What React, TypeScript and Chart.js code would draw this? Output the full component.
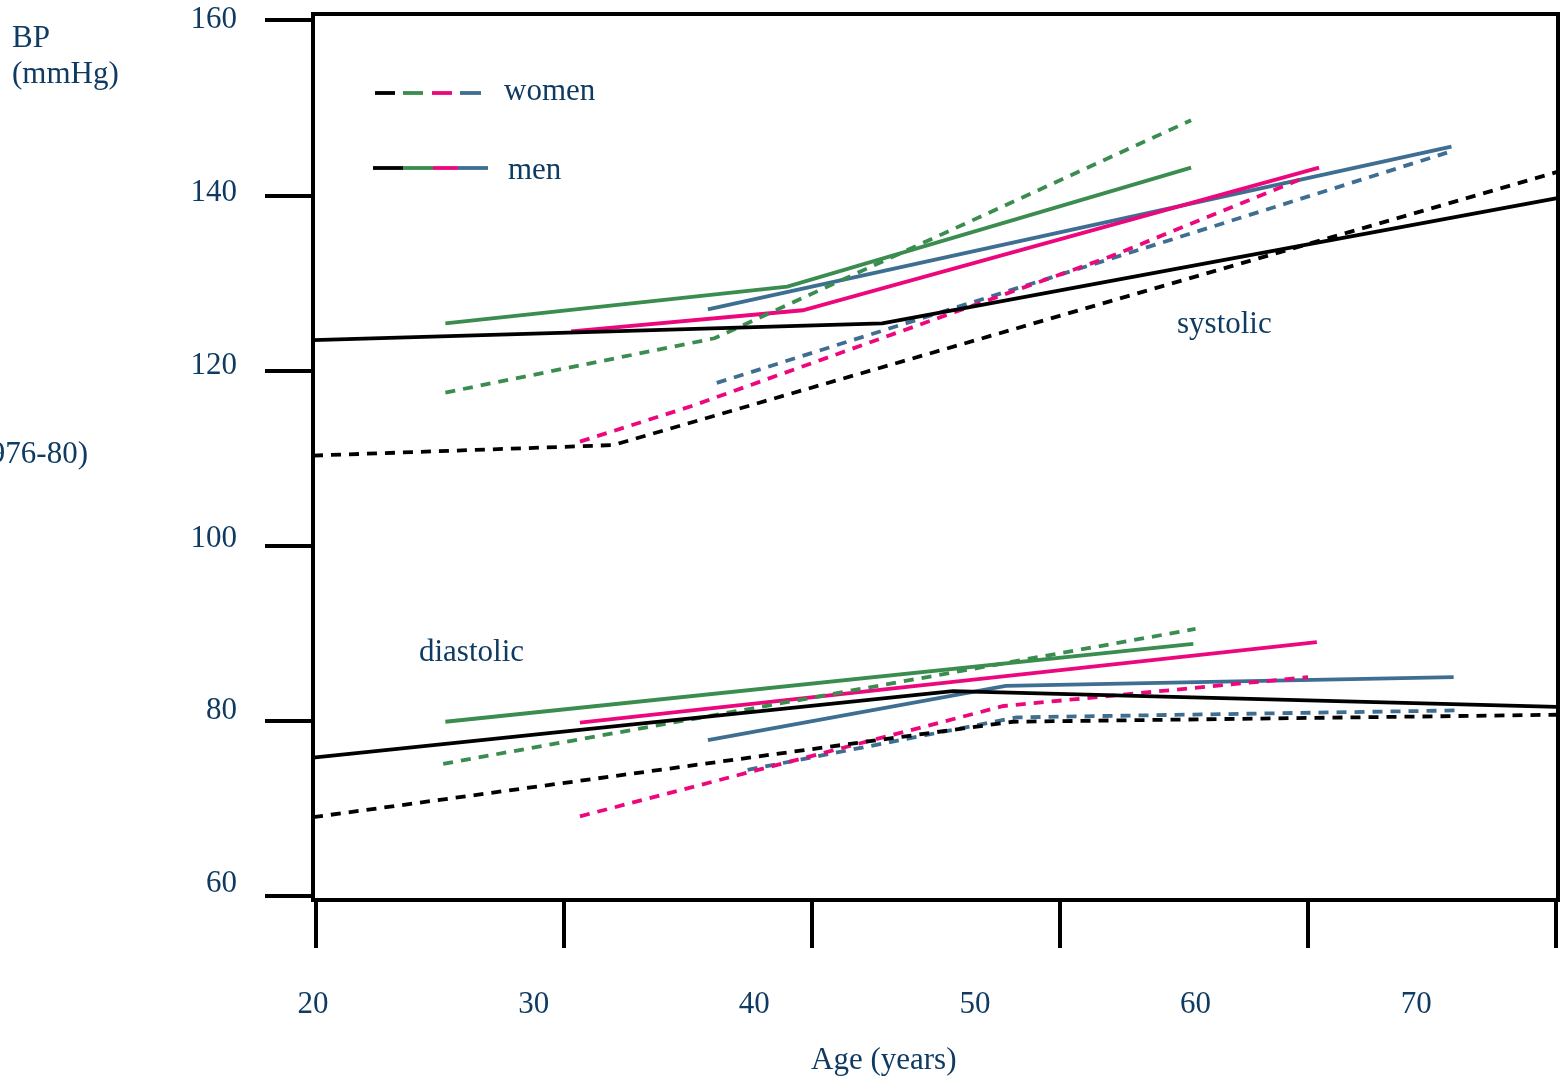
import React, { useEffect, useRef } from 'react';
import { Chart, registerables } from 'chart.js';

Chart.register(...registerables);

const NAVY = '#0f3b63';
const BLACK = '#000000';
const GREEN = '#3b8c4f';
const PINK = '#ec077d';
const BLUE = '#3e6e92';
const FONT = 'Liberation Serif';

// Axis tick values
const xLabelTicks = [20, 30, 40, 50, 60, 70];
const xMarkTicks = [20, 30, 40, 50, 60, 70];
const yLabelTicks = [60, 80, 100, 120, 140, 160];
const yMarkTicks = [60, 80, 100, 120, 140, 160];

// Systolic BP by age: [age, mmHg]
const sysMenBlack = [[20, 123.5], [45.8, 125.4], [76.4, 139.7]];
const sysWomenBlack = [[20, 110.3], [33.6, 111.5], [76.4, 142.7]];
const sysMenGreen = [[26.0, 125.4], [41.5, 129.6], [59.8, 143.2]];
const sysWomenGreen = [[26.0, 117.5], [38.2, 123.7], [59.8, 148.6]];
const sysMenPink = [[31.7, 124.5], [42.2, 126.9], [65.6, 143.2]];
const sysWomenPink = [[32.1, 111.9], [37.1, 115.9], [56.1, 133.0], [64.7, 141.8]];
const sysMenBlue = [[37.9, 127.0], [71.6, 145.6]];
const sysWomenBlue = [[38.3, 118.6], [71.4, 144.9]];

// Diastolic BP by age: [age, mmHg]
const diaMenBlack = [[20, 75.8], [49.0, 83.4], [76.4, 81.6]];
const diaWomenBlack = [[20, 69.0], [51.7, 79.9], [76.4, 80.7]];
const diaMenGreen = [[26.0, 79.9], [59.9, 88.8]];
const diaWomenGreen = [[25.9, 75.1], [60.0, 90.5]];
const diaMenPink = [[32.1, 79.8], [65.5, 89.0]];
const diaWomenPink = [[32.1, 69.1], [51.3, 81.7], [65.1, 85.0]];
const diaMenBlue = [[37.9, 77.8], [51.4, 84.0], [71.7, 85.0]];
const diaWomenBlue = [[39.7, 74.4], [51.9, 80.4], [72.0, 81.2]];

const DASH = [10, 8];

function ds(label: string, pts: number[][], color: string, dashed: boolean) {
  return {
    label,
    data: pts.map(([x, y]) => ({ x, y })),
    borderColor: color,
    backgroundColor: color,
    borderWidth: 3.8,
    borderDash: dashed ? DASH : [],
    borderCapStyle: 'butt',
    pointRadius: 0,
    tension: 0,
    fill: false,
    xAxisID: 'x',
    yAxisID: 'y',
  };
}

const decorPlugin = {
  id: 'decor',
  afterDraw(chart: any) {
    const ctx = chart.ctx as CanvasRenderingContext2D;
    const a = chart.chartArea;
    ctx.save();
    // frame
    ctx.strokeStyle = BLACK;
    ctx.lineWidth = 4;
    ctx.setLineDash([]);
    ctx.strokeRect(a.left, a.top, a.right - a.left, a.bottom - a.top);

    // texts
    ctx.fillStyle = NAVY;
    ctx.font = `31px "${FONT}"`;
    ctx.textBaseline = 'alphabetic';
    ctx.textAlign = 'left';
    ctx.fillText('BP', 12, 47);
    ctx.fillText('(mmHg)', 12, 83);
    ctx.textAlign = 'right';
    ctx.fillText('(1976-80)', 88, 463);
    ctx.textAlign = 'left';
    ctx.fillText('systolic', 1177, 333);
    ctx.fillText('diastolic', 419, 661);
    ctx.fillText('Age (years)', 811, 1069);
    ctx.fillText('women', 504, 100);
    ctx.fillText('men', 508, 179);

    // legend swatches
    ctx.lineWidth = 3.8;
    ctx.lineCap = 'butt';
    const dashSegs: [number, number, string][] = [
      [375, 395, BLACK], [403, 423, GREEN], [432, 452, PINK], [460, 481, BLUE],
    ];
    dashSegs.forEach(([x1, x2, c]) => {
      ctx.strokeStyle = c;
      ctx.beginPath();
      ctx.moveTo(x1, 93);
      ctx.lineTo(x2, 93);
      ctx.stroke();
    });
    const solidSegs: [number, number, string][] = [
      [373, 403, BLACK], [403, 433, GREEN], [433, 458, PINK], [458, 488, BLUE],
    ];
    solidSegs.forEach(([x1, x2, c]) => {
      ctx.strokeStyle = c;
      ctx.beginPath();
      ctx.moveTo(x1, 168);
      ctx.lineTo(x2, 168);
      ctx.stroke();
    });
    ctx.restore();
  },
};

function zeroPad(s: any) {
  s.paddingTop = 0;
  s.paddingBottom = 0;
  s.paddingLeft = 0;
  s.paddingRight = 0;
}

export default function App() {
  const ref = useRef<HTMLCanvasElement>(null);
  useEffect(() => {
    const tickFont = { family: FONT, size: 31 };
    const chart = new Chart(ref.current as HTMLCanvasElement, {
      type: 'line',
      data: {
        datasets: [
          ds('sys men 1', sysMenBlack, BLACK, false),
          ds('sys women 1', sysWomenBlack, BLACK, true),
          ds('sys men 2', sysMenGreen, GREEN, false),
          ds('sys women 2', sysWomenGreen, GREEN, true),
          ds('sys men 3', sysMenPink, PINK, false),
          ds('sys women 3', sysWomenPink, PINK, true),
          ds('sys men 4', sysMenBlue, BLUE, false),
          ds('sys women 4', sysWomenBlue, BLUE, true),
          ds('dia men 1', diaMenBlack, BLACK, false),
          ds('dia women 1', diaWomenBlack, BLACK, true),
          ds('dia men 2', diaMenGreen, GREEN, false),
          ds('dia women 2', diaWomenGreen, GREEN, true),
          ds('dia men 3', diaMenPink, PINK, false),
          ds('dia women 3', diaWomenPink, PINK, true),
          ds('dia men 4', diaMenBlue, BLUE, false),
          ds('dia women 4', diaWomenBlue, BLUE, true),
        ] as any,
      },
      options: {
        responsive: false,
        devicePixelRatio: 1,
        animation: false,
        layout: { padding: { top: 14, right: 10, left: 0, bottom: 0 } },
        plugins: { legend: { display: false }, tooltip: { enabled: false } },
        scales: {
          x: {
            type: 'linear',
            position: 'bottom',
            weight: 1,
            min: 20,
            max: 76.43,
            afterBuildTicks: (s: any) => { s.ticks = xLabelTicks.map((v) => ({ value: v })); },
            afterFit: (s: any) => { s.height = 133; zeroPad(s); },
            grid: { display: false, drawTicks: false },
            border: { display: false },
            ticks: { font: tickFont, color: NAVY, padding: 38, maxRotation: 0, autoSkip: false },
          },
          x2: {
            type: 'linear',
            position: 'bottom',
            weight: 0,
            min: 19.879,
            max: 70.081,
            afterBuildTicks: (s: any) => { s.ticks = xMarkTicks.map((v) => ({ value: v })); },
            afterFit: (s: any) => { s.height = 48; zeroPad(s); },
            grid: { drawOnChartArea: false, drawTicks: true, tickLength: 48, lineWidth: 4, color: BLACK },
            border: { display: false },
            ticks: { display: false },
          },
          y: {
            type: 'linear',
            position: 'left',
            weight: 0,
            min: 59.54,
            max: 160.74,
            afterBuildTicks: (s: any) => { s.ticks = yMarkTicks.map((v) => ({ value: v })); },
            afterFit: (s: any) => { s.width = 48; zeroPad(s); },
            grid: { drawOnChartArea: false, drawTicks: true, tickLength: 48, lineWidth: 4, color: BLACK },
            border: { display: false },
            ticks: { display: false },
          },
          y2: {
            type: 'linear',
            position: 'left',
            weight: 1,
            min: 58.15,
            max: 160.69,
            afterBuildTicks: (s: any) => { s.ticks = yLabelTicks.map((v) => ({ value: v })); },
            afterFit: (s: any) => { s.width = 265; zeroPad(s); },
            grid: { display: false, drawTicks: false },
            border: { display: false },
            ticks: { font: tickFont, color: NAVY, padding: 28, autoSkip: false },
          },
        },
      } as any,
      plugins: [decorPlugin],
    });
    return () => chart.destroy();
  }, []);
  return (
    <div style={{ position: 'absolute', left: 0, top: 0, width: 1568, height: 1081, background: '#fff' }}>
      <canvas ref={ref} width={1568} height={1081} style={{ display: 'block' }} />
    </div>
  );
}
